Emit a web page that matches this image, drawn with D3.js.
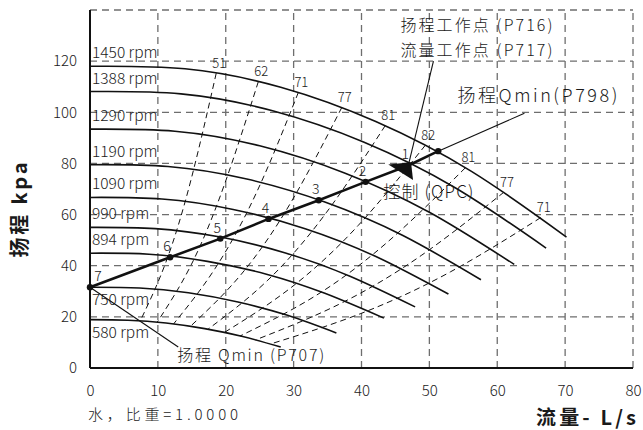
<!DOCTYPE html>
<html>
<head>
<meta charset="utf-8">
<script src="https://cdn.jsdelivr.net/npm/d3@7"></script>
<style>
body { margin: 0; background: #fff; }
text { font-family: "Noto Sans CJK SC", "Noto Sans", sans-serif; fill: #1a1a1a; }
</style>
</head>
<body>
<svg id="chart" width="643" height="430"></svg>
<script>
// axis ticks
var xTicks = [0, 10, 20, 30, 40, 50, 60, 70, 80];
var yTicks = [0, 20, 40, 60, 80, 100, 120];
var xGrid = [10, 20, 30, 40, 50, 60, 70, 80];
var yGrid = [20, 40, 60, 80, 100, 120, 140];

// pump curves, one per speed (flow L/s, head kPa)
var rpmNames = ["1450 rpm", "1388 rpm", "1290 rpm", "1190 rpm", "1090 rpm", "990 rpm", "894 rpm", "750 rpm", "580 rpm"];
var curveQ = [
	[0, 14.0, 28.1, 42.1, 56.2, 70.2],
	[0, 13.4, 26.9, 40.3, 53.8, 67.2],
	[0, 12.5, 25.0, 37.5, 50.0, 62.5],
	[0, 11.5, 23.1, 34.6, 46.1, 57.6],
	[0, 10.6, 21.1, 31.7, 42.2, 52.8],
	[0, 9.6, 19.2, 28.8, 38.3, 47.9],
	[0, 8.7, 17.3, 26.0, 34.6, 43.3],
	[0, 7.3, 14.5, 21.8, 29.1, 36.3],
	[0, 5.6, 11.2, 16.9, 22.5, 28.1]
];
var curveH = [
	[118.0, 117.0, 109.8, 96.4, 76.9, 51.2],
	[108.1, 107.2, 100.6, 88.4, 70.5, 46.9],
	[93.4, 92.6, 86.9, 76.3, 60.9, 40.5],
	[79.5, 78.8, 73.9, 64.9, 51.8, 34.5],
	[66.7, 66.1, 62.0, 54.5, 43.5, 28.9],
	[55.0, 54.5, 51.2, 45.0, 35.9, 23.9],
	[44.9, 44.5, 41.7, 36.7, 29.2, 19.5],
	[31.6, 31.3, 29.4, 25.8, 20.6, 13.7],
	[18.9, 18.7, 17.6, 15.4, 12.3, 8.2]
];

// efficiency lines (%), from the 1450 rpm curve down to the 580 rpm curve
var isoLabels = ["51", "62", "71", "77", "81", "82", "81", "77", "71"];
var isoQ = [
	[18.6, 14.9, 11.2, 7.4],
	[24.8, 19.8, 14.9, 9.9],
	[30.7, 24.6, 18.4, 12.3],
	[37.1, 29.7, 22.3, 14.8],
	[43.5, 34.8, 26.1, 17.4],
	[49.4, 39.5, 29.6, 19.8],
	[55.3, 44.2, 33.2, 22.1],
	[61.0, 48.8, 36.6, 24.4],
	[66.4, 53.1, 39.8, 26.6]
];
var isoH = [
	[115.3, 73.8, 41.5, 18.4],
	[112.0, 71.7, 40.3, 17.9],
	[107.8, 69.0, 38.8, 17.2],
	[101.9, 65.2, 36.7, 16.3],
	[94.8, 60.7, 34.1, 15.2],
	[87.1, 55.7, 31.4, 13.9],
	[78.3, 50.1, 28.2, 12.5],
	[68.8, 44.0, 24.8, 11.0],
	[58.8, 37.6, 21.2, 9.4]
];

// control line points 7..1 and the Qmin point on 1450 rpm
var sysQ = [0, 11.8, 19.2, 26.3, 33.7, 40.6, 46.9, 51.3];
var sysH = [31.6, 43.3, 50.6, 58.3, 65.6, 72.8, 79.2, 84.8];
var sysLabels = ["7", "6", "5", "4", "3", "2", "1", ""];

// leader lines: [from, to] in data units
var leaderWork = [[46.9, 79.2], [50.6, 120.0]];
var leaderQmax = [[51.3, 84.8], [64.0, 99.6]];
var leaderQmin = [[0, 31.6], [13.0, 8.2]];

var svg = d3.select("#chart");

var x = d3.scaleLinear().domain([0, 80]).range([90, 633]);
var y = d3.scaleLinear().domain([0, 140]).range([368, 10]);

// grid
var grid = svg.append("g")
	.attr("stroke", "#6e6e6e")
	.attr("stroke-width", 1.3)
	.attr("stroke-dasharray", "7,5");
grid.selectAll(".vg").data(xGrid).enter().append("line")
	.attr("x1", function(d) { return x(d); })
	.attr("x2", function(d) { return x(d); })
	.attr("y1", y(0))
	.attr("y2", y(140));
grid.selectAll(".hg").data(yGrid).enter().append("line")
	.attr("x1", x(0))
	.attr("x2", x(80))
	.attr("y1", function(d) { return y(d); })
	.attr("y2", function(d) { return y(d); });

// axes
var xAxis = svg.append("g")
	.attr("transform", "translate(0," + y(0) + ")")
	.call(d3.axisBottom(x).tickValues(xTicks).tickSize(0).tickPadding(17));
var yAxis = svg.append("g")
	.attr("transform", "translate(" + x(0) + ",0)")
	.call(d3.axisLeft(y).tickValues(yTicks).tickSize(0).tickPadding(13));
[xAxis, yAxis].forEach(function(a) {
	a.select(".domain").remove();
	a.selectAll("text")
		.style("font-family", "\"Noto Sans CJK SC\", \"Noto Sans\", sans-serif")
		.style("font-size", "15px")
		.style("font-weight", 300)
		.attr("fill", "#1a1a1a");
});

svg.append("line")
	.attr("x1", x(0)).attr("x2", x(0))
	.attr("y1", y(140)).attr("y2", y(0))
	.attr("stroke", "#111").attr("stroke-width", 2);
svg.append("line")
	.attr("x1", x(0)).attr("x2", x(80))
	.attr("y1", y(0)).attr("y2", y(0))
	.attr("stroke", "#111").attr("stroke-width", 2);

var line = d3.line()
	.x(function(d) { return x(d[0]); })
	.y(function(d) { return y(d[1]); })
	.curve(d3.curveNatural);

function zipPts(qs, hs) {
	return qs.map(function(q, i) { return [q, hs[i]]; });
}

// efficiency lines
svg.append("g").selectAll("path")
	.data(isoQ.map(function(qs, i) { return zipPts(qs, isoH[i]); }))
	.enter().append("path")
	.attr("d", line)
	.attr("fill", "none")
	.attr("stroke", "#111")
	.attr("stroke-width", 1)
	.attr("stroke-dasharray", "6,4");

svg.append("g").selectAll("text")
	.data(isoLabels)
	.enter().append("text")
	.attr("x", function(d, i) { return x(isoQ[i][0]) + 3; })
	.attr("y", function(d, i) { return y(isoH[i][0]) - 10; })
	.attr("dy", "0.35em")
	.attr("text-anchor", "middle")
	.style("font-size", "13px")
	.style("font-weight", 300)
	.text(function(d) { return d; });

// pump curves
svg.append("g").selectAll("path")
	.data(curveQ.map(function(qs, i) { return zipPts(qs, curveH[i]); }))
	.enter().append("path")
	.attr("d", line)
	.attr("fill", "none")
	.attr("stroke", "#111")
	.attr("stroke-width", 1.6);

svg.append("g").selectAll("text")
	.data(rpmNames)
	.enter().append("text")
	.attr("x", x(0) + 2)
	.attr("y", function(d, i) { return i < 7 ? y(curveH[i][0]) - 8 : y(curveH[i][0]) + 18; })
	.style("font-size", "15.5px")
	.style("font-weight", 300)
	.text(function(d) { return d; });

// control line
var sysPts = zipPts(sysQ, sysH);
svg.append("path")
	.attr("d", d3.line().x(function(d) { return x(d[0]); }).y(function(d) { return y(d[1]); })(sysPts))
	.attr("fill", "none")
	.attr("stroke", "#111")
	.attr("stroke-width", 2.6);

svg.append("g").selectAll("circle")
	.data(sysPts.filter(function(d, i) { return i !== 6; }))
	.enter().append("circle")
	.attr("cx", function(d) { return x(d[0]); })
	.attr("cy", function(d) { return y(d[1]); })
	.attr("r", 3.2)
	.attr("fill", "#111");

svg.append("g").selectAll("text")
	.data(sysLabels)
	.enter().append("text")
	.attr("x", function(d, i) { return x(sysQ[i]) + (i === 0 ? 8 : -3); })
	.attr("y", function(d, i) { return y(sysH[i]) - 11; })
	.attr("dy", "0.35em")
	.attr("text-anchor", "middle")
	.style("font-size", "14px")
	.style("font-weight", 300)
	.text(function(d) { return d; });

// control arrow head at point 1
svg.append("path")
	.attr("transform", "translate(" + x(sysQ[6]) + "," + y(sysH[6]) + ")")
	.attr("d", "M-20,-1L2.7,-3.3L4.7,14.5Z")
	.attr("fill", "#111");

// leader lines
[leaderWork, leaderQmax, leaderQmin].forEach(function(l) {
	svg.append("line")
		.attr("x1", x(l[0][0])).attr("y1", y(l[0][1]))
		.attr("x2", x(l[1][0])).attr("y2", y(l[1][1]))
		.attr("stroke", "#111")
		.attr("stroke-width", 1.1);
});

function label(txt, px, py, size, width, anchor, weight) {
	var t = svg.append("text")
		.attr("x", px)
		.attr("y", py)
		.attr("text-anchor", anchor || "start")
		.style("font-size", size + "px")
		.style("font-weight", weight || 300)
		.text(txt);
	if (width) t.attr("textLength", width).attr("lengthAdjust", "spacing");
	return t;
}

var wx = x(leaderWork[1][0]), wy = y(leaderWork[1][1]);
label("扬程工作点 (P716)", wx - 33, wy - 30, 16, 152);
label("流量工作点 (P717)", wx - 33, wy - 5, 16, 152);
var mx = x(leaderQmax[1][0]), my = y(leaderQmax[1][1]);
label("扬程Qmin(P798)", mx - 67, my - 11, 18, 160);
label("控制 (QPC)", x(sysQ[6]) - 25, y(sysH[6]) + 33, 17, 90);
var nx = x(leaderQmin[1][0]), ny = y(leaderQmin[1][1]);
label("扬程 Qmin (P707)", nx - 1, ny + 14, 16, 147);

// axis titles
label("水，比重=1.0000", 88, 420, 15, 150);
label("流量- L/s", 636, 425, 20, 100, "end", 700);
svg.append("text")
	.attr("transform", "translate(27,210) rotate(-90)")
	.attr("text-anchor", "middle")
	.attr("textLength", 95)
	.attr("lengthAdjust", "spacing")
	.style("font-size", "20px")
	.style("font-weight", 700)
	.text("扬程 kpa");
</script>
</body>
</html>
